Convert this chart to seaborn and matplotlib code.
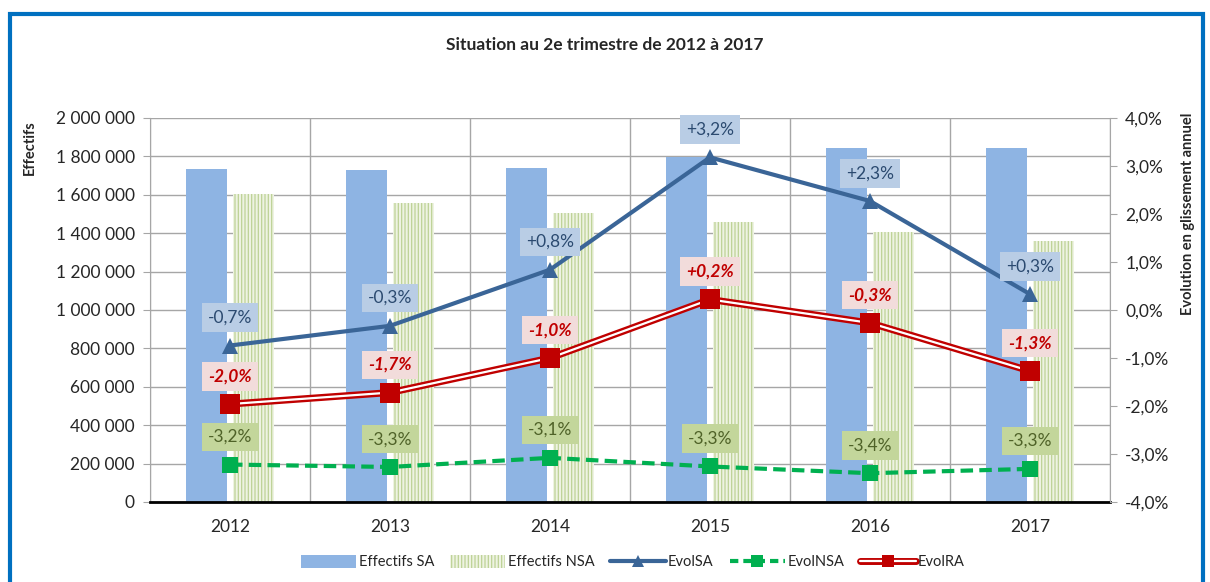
import numpy as np
import pandas as pd
import matplotlib
matplotlib.use('Agg')
import matplotlib.pyplot as plt
import seaborn as sns
from matplotlib.lines import Line2D
from matplotlib.patches import Patch, Rectangle
from matplotlib.ticker import FuncFormatter, MultipleLocator, FixedLocator

# Données
annees = ['2012', '2013', '2014', '2015', '2016', '2017']
effectifs_sa = [1736000, 1730000, 1741000, 1798000, 1842000, 1845000]
effectifs_nsa = [1603000, 1555000, 1503000, 1456000, 1407000, 1357000]
evol_sa = [-0.74, -0.33, 0.84, 3.18, 2.27, 0.33]
evol_nsa = [-3.22, -3.27, -3.08, -3.26, -3.40, -3.31]
evol_ra = [-1.96, -1.72, -1.00, 0.22, -0.27, -1.27]

BLEU_SA = '#8EB4E3'
VERT_NSA = '#EEF3E2'
HACHURE_NSA = '#BDD296'
BLEU_LIGNE = '#3A6597'
VERT_LIGNE = '#00B050'
ROUGE = '#C00000'

sns.set_style('white')
plt.rcParams['font.family'] = ['Lato', 'DejaVu Sans']
plt.rcParams['hatch.linewidth'] = 0.9

fig = plt.figure(figsize=(12.1, 5.82), dpi=100)
ax = fig.add_axes([150 / 1210, 1 - 502 / 582, 960 / 1210, 384 / 582])

# Barres
df_barres = pd.DataFrame({
    'annee': annees * 2,
    'effectifs': effectifs_sa + effectifs_nsa,
    'serie': ['Effectifs SA'] * len(annees) + ['Effectifs NSA'] * len(annees),
})
sns.barplot(data=df_barres, x='annee', y='effectifs', hue='serie',
            palette={'Effectifs SA': BLEU_SA, 'Effectifs NSA': VERT_NSA},
            width=0.59, gap=0.13, saturation=1, legend=False, ax=ax, zorder=2)
for i, p in enumerate(ax.patches):
    p.set_linewidth(0)
    if i >= len(annees):
        p.set_hatch('|||||')
        p.set_edgecolor(HACHURE_NSA)

ax.set_xlim(-0.5, len(annees) - 0.5)
ax.set_ylim(0, 2000000)
ax.yaxis.set_major_locator(MultipleLocator(200000))
ax.yaxis.set_major_formatter(FuncFormatter(lambda v, p: f'{int(v):,}'.replace(',', ' ')))
ax.xaxis.set_minor_locator(FixedLocator(np.arange(-0.5, len(annees), 1)))
ax.grid(True, axis='y', color='#A6A6A6', lw=1, zorder=0)
ax.grid(True, axis='x', which='minor', color='#A6A6A6', lw=1, zorder=0)
ax.set_axisbelow(True)
ax.tick_params(axis='x', which='major', length=0, labelsize=12.5, pad=12)
ax.tick_params(axis='x', which='minor', length=5, width=2, color='black', direction='out')
ax.tick_params(axis='y', length=5, color='#A6A6A6', labelsize=12.5, pad=6)
ax.set_xlabel('')
ax.set_ylabel('')
for s in ['top', 'right']:
    ax.spines[s].set_visible(False)
ax.spines['left'].set_color('#A6A6A6')
ax.spines['bottom'].set_color('black')
ax.spines['bottom'].set_linewidth(2)

# Courbes d'évolution
ax2 = ax.twinx()
x = np.arange(len(annees))
sns.lineplot(x=x, y=evol_sa, ax=ax2, color=BLEU_LIGNE, lw=3, marker='^',
             markersize=12, markeredgewidth=0, zorder=5)
sns.lineplot(x=x, y=evol_nsa, ax=ax2, color=VERT_LIGNE, lw=3, linestyle=(0, (3, 1.5)),
             marker='s', markersize=11, markeredgewidth=0, zorder=5)
sns.lineplot(x=x, y=evol_ra, ax=ax2, color=ROUGE, lw=5, zorder=5)
sns.lineplot(x=x, y=evol_ra, ax=ax2, color='white', lw=1.6, zorder=6)
sns.lineplot(x=x, y=evol_ra, ax=ax2, color=ROUGE, lw=0, marker='s',
             markersize=14, markeredgewidth=0, zorder=7)

ax2.set_ylim(-4, 4)
ax2.set_xlim(-0.5, len(annees) - 0.5)
ax2.yaxis.set_major_locator(MultipleLocator(1))
ax2.yaxis.set_major_formatter(FuncFormatter(lambda v, p: f'{v:.1f}%'.replace('.', ',')))
ax2.tick_params(axis='y', length=5, color='#A6A6A6', labelsize=12.5, pad=6)
for s in ['top', 'left', 'bottom']:
    ax2.spines[s].set_visible(False)
ax2.spines['right'].set_color('#A6A6A6')


def etiquette(valeurs, couleur_txt, couleur_fond, style='normal', poids='bold'):
    for xi, v in zip(x, valeurs):
        txt = f'{v:+.1f}%'.replace('.', ',')
        ax2.annotate(txt, (xi, v), xytext=(0, 20), textcoords='offset points',
                     ha='center', va='center', fontsize=12.5, color=couleur_txt,
                     fontstyle=style, fontweight=poids, zorder=10,
                     bbox=dict(boxstyle='square,pad=0.36', fc=couleur_fond, ec='none'))


etiquette(evol_sa, '#2B4A70', '#B9CDE5', poids='normal')
etiquette(evol_nsa, '#4F6228', '#C3D69B', poids='normal')
etiquette(evol_ra, ROUGE, '#F2DCDB', style='italic')

# Titre et libellés d'axes
fig.text(0.5, 1 - 45 / 582, 'Situation au 2e trimestre de 2012 à 2017',
         ha='center', va='center', fontsize=12.5, fontweight='bold')
fig.text(30 / 1210, 1 - 120 / 582, 'Effectifs', rotation=90, ha='center', va='top',
         fontsize=10.5, fontweight='bold')
fig.text(1188 / 1210, 1 - 113 / 582, 'Evolution en glissement annuel', rotation=90,
         ha='center', va='top', fontsize=10.5, fontweight='bold')

# Légende
poignees = [
    Patch(facecolor=BLEU_SA, edgecolor='none'),
    Patch(facecolor=VERT_NSA, edgecolor=HACHURE_NSA, hatch='|||||', lw=0),
    Line2D([], [], color=BLEU_LIGNE, lw=3, marker='^', markersize=9, markeredgewidth=0),
    Line2D([], [], color=VERT_LIGNE, lw=3, linestyle=(0, (2, 1.2)), marker='s',
           markersize=8, markeredgewidth=0),
    (Line2D([], [], color=ROUGE, lw=5), Line2D([], [], color='white', lw=1.6),
     Line2D([], [], color=ROUGE, lw=0, marker='s', markersize=8, markeredgewidth=0)),
]
noms = ['Effectifs SA', 'Effectifs NSA', 'EvolSA', 'EvolNSA', 'EvolRA']
fig.legend(poignees, noms, loc='center', bbox_to_anchor=(0.523, 1 - 562 / 582), ncol=5,
           frameon=False, fontsize=10.5, handlelength=3.8, handleheight=1.0,
           columnspacing=1.1, handletextpad=0.15)

# Cadre bleu
fig.patches.append(Rectangle((10 / 1210, -0.1), 1193 / 1210, 1.1 - 14 / 582,
                             transform=fig.transFigure, fill=False, ec='#0070C0', lw=3))

fig.savefig('out.png', dpi=100)
